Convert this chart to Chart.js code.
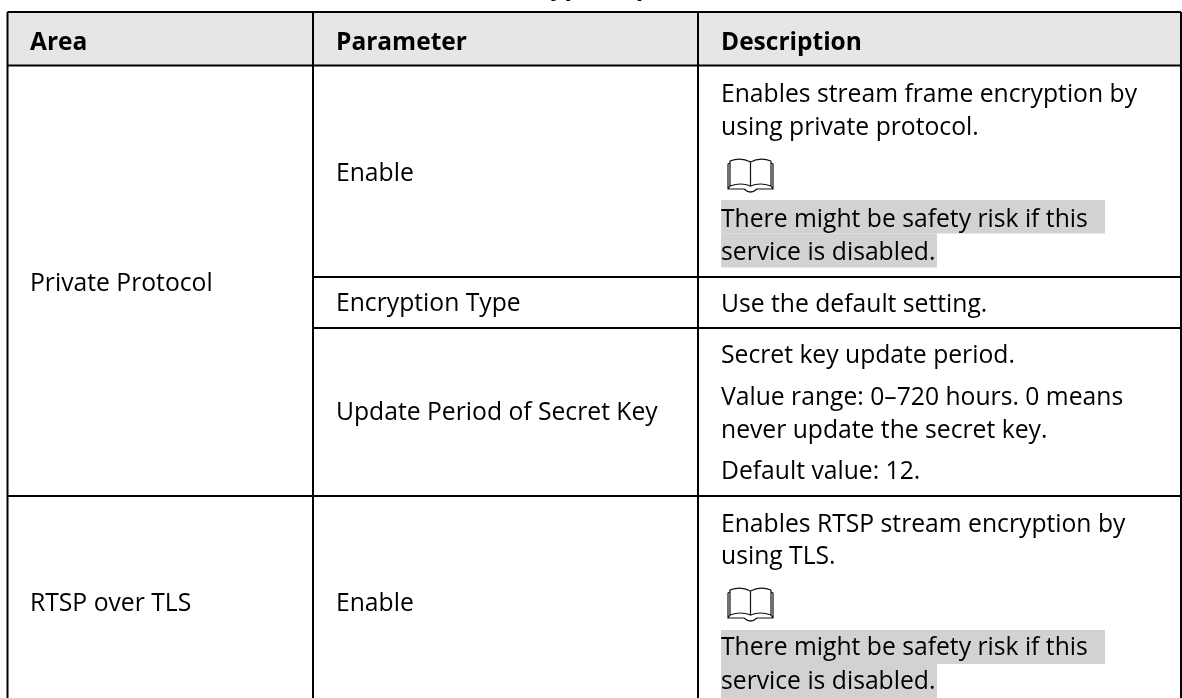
<!DOCTYPE html>
<html>
<head>
<meta charset="utf-8">
<style>html,body{margin:0;padding:0;background:#fff}canvas{display:block}</style>
<script src="https://cdn.jsdelivr.net/npm/chart.js@4/dist/chart.umd.min.js"></script>
</head>
<body>
<canvas id="c" width="1182" height="698"></canvas>
<script>
// Table content
const caption = "Encryption parameter";
const headers = ["Area", "Parameter", "Description"];
const areas = ["Private Protocol", "RTSP over TLS"];
const parameters = ["Enable", "Encryption Type", "Update Period of Secret Key", "Enable"];
const descriptionLines = [
  "Enables stream frame encryption by", "using private protocol.",
  "There might be safety risk if this", "service is disabled.",
  "Use the default setting.",
  "Secret key update period.",
  "Value range: 0\u2013720 hours. 0 means", "never update the secret key.",
  "Default value: 12.",
  "Enables RTSP stream encryption by", "using TLS.",
  "There might be safety risk if this", "service is disabled."
];

// Layout, kept apart from the content
const colRules = [7.5, 313, 698, 1181];
const rowRules = {top: 12, head: 65.5, r1: 277, r2: 328, r3: 496, bottom: 698};
const textX = [30, 336, 721];
const headBase = 49.5;
const areaBase = [291, 611];
const paramBase = [181, 311, 420, 611];
const descBase = [102, 135, 227, 260, 311.5, 363, 405, 437.5, 478.5, 532, 563.5, 655, 688.5];
const descHighlight = {2:[200,233.5,1105], 3:[233.5,267.5,937], 11:[630,664,1105], 12:[664,698,937]};
const bookTops = [158, 587];

const seg = (x0, y0, x1, y1) => ({
  data: [{x: x0, y: y0}, {x: x1, y: y1}],
  showLine: true, borderColor: '#000', borderWidth: 2, pointRadius: 0, fill: false, order: 0, clip: false
});
const band = (x0, x1, y0, y1, color) => ({
  data: [{x: x0, y: y1}, {x: x1, y: y1}],
  showLine: true, borderWidth: 0, borderColor: 'transparent', pointRadius: 0,
  backgroundColor: color, fill: {target: {value: y0}}, order: 5, clip: false
});

const [c0, c1, c2, c3] = colRules;
const R = rowRules;
const datasets = [
  band(c0, c3, R.top, R.head, '#e6e6e6'),
  ...Object.values(descHighlight).map(h => band(textX[2], h[2], h[0], h[1], '#d2d2d2')),
  seg(c0, R.top, c3, R.top), seg(c0, R.head, c3, R.head),
  seg(c1, R.r1, c3, R.r1), seg(c1, R.r2, c3, R.r2), seg(c0, R.r3, c3, R.r3),
  seg(c0, R.top, c0, R.bottom), seg(c1, R.top, c1, R.bottom),
  seg(c2, R.top, c2, R.bottom), seg(c3, R.top, c3, R.bottom)
];

const FAMILY = '"Open Sans"';
const REG = '24.7px ' + FAMILY, BOLD = 'bold 24.5px ' + FAMILY;

const tablePlugin = {
  id: 'tableText',
  afterDatasetsDraw(chart) {
    const ctx = chart.ctx, sx = chart.scales.x, sy = chart.scales.y;
    ctx.save();
    ctx.fillStyle = '#000';
    ctx.textAlign = 'left';
    ctx.textBaseline = 'alphabetic';
    const put = (t, x, y, bold) => {
      ctx.font = bold ? BOLD : REG;
      ctx.fillText(t, sx.getPixelForValue(x), sy.getPixelForValue(y));
    };
    put(caption, 497, -5, true);
    headers.forEach((t, i) => put(t, textX[i], headBase, true));
    areas.forEach((t, i) => put(t, textX[0], areaBase[i]));
    parameters.forEach((t, i) => put(t, textX[1], paramBase[i]));
    descriptionLines.forEach((t, i) => put(t, textX[2], descBase[i]));
    bookTops.forEach(top => drawBook(ctx, sx.getPixelForValue(727), sy.getPixelForValue(top)));
    ctx.restore();
  }
};

function drawBook(ctx, x, y) {
  ctx.save();
  ctx.translate(x, y);
  ctx.strokeStyle = '#111';
  ctx.lineWidth = 1.2;
  ctx.beginPath();
  // left page
  ctx.moveTo(3, 3);
  ctx.quadraticCurveTo(14, -1, 23.5, 4);
  ctx.lineTo(23.5, 28);
  ctx.quadraticCurveTo(14, 24, 3, 28);
  ctx.closePath();
  // right page
  ctx.moveTo(44, 3);
  ctx.quadraticCurveTo(33, -1, 23.5, 4);
  ctx.moveTo(23.5, 28);
  ctx.quadraticCurveTo(33, 24, 44, 28);
  ctx.lineTo(44, 3);
  // cover
  ctx.moveTo(3, 5);
  ctx.lineTo(1, 6);
  ctx.lineTo(1, 31);
  ctx.lineTo(17, 31);
  ctx.quadraticCurveTo(23.5, 37, 30, 31);
  ctx.lineTo(46, 31);
  ctx.lineTo(46, 6);
  ctx.lineTo(44, 5);
  ctx.moveTo(1, 31);
  ctx.lineTo(3, 28);
  ctx.moveTo(46, 31);
  ctx.lineTo(44, 28);
  ctx.stroke();
  ctx.restore();
}

new Chart(document.getElementById('c'), {
  type: 'scatter',
  data: {datasets},
  options: {
    responsive: false,
    animation: false,
    events: [],
    layout: {padding: 0},
    plugins: {legend: {display: false}, title: {display: false}, tooltip: {enabled: false}},
    scales: {
      x: {type: 'linear', min: 0, max: 1182, display: false},
      y: {type: 'linear', min: 0, max: 698, reverse: true, display: false}
    }
  },
  plugins: [tablePlugin]
});
</script>
</body>
</html>
